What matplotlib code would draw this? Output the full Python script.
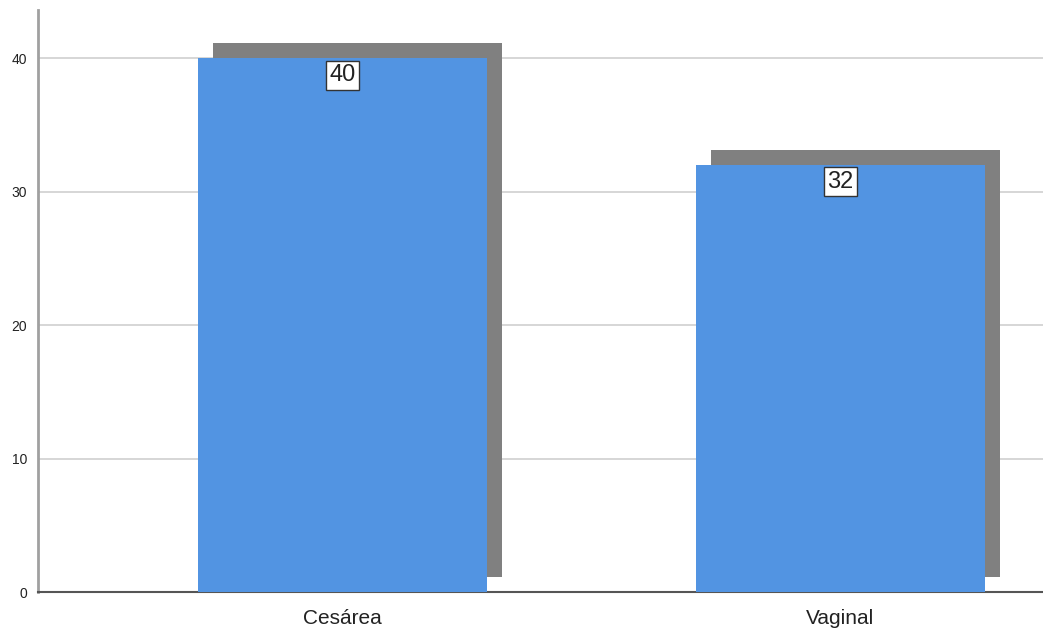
import matplotlib as mpl
mpl.rcParams["font.family"] = ["Liberation Sans", "DejaVu Sans"]
import matplotlib.pyplot as plt
import matplotlib.transforms as mtransforms

categories = ["Cesárea", "Vaginal"]
counts = [40, 32]
yticks = [0, 10, 20, 30, 40]

bar_color = "#5294e2"
shadow_color = "#808080"

fig = plt.figure(figsize=(10.43, 6.33), dpi=100)
ax = fig.add_axes([38 / 1043, 41 / 633, 1 - 38 / 1043, (592 - 10) / 633])

x = list(range(len(categories)))
width = 0.58

# drop shadow: same bars shifted right and up by 15 px
shadow_tr = mtransforms.offset_copy(ax.transData, fig=fig, x=15, y=15, units="dots")
ax.bar(x, counts, width=width, color=shadow_color, transform=shadow_tr, zorder=2)
ax.bar(x, counts, width=width, color=bar_color, zorder=3)

for xi, v in zip(x, counts):
    ax.annotate(str(v), (xi, v), xytext=(0, -17), textcoords="offset pixels",
                ha="center", va="center", fontsize=17, color="#222222", zorder=5,
                bbox=dict(boxstyle="square,pad=0.15", fc="white", ec="#333333", lw=1))

ax.set_xlim(-0.611, 1.407)
ax.set_ylim(0, 43.6)
ax.set_yticks(yticks)
ax.set_xticks(x)
ax.set_xticklabels(categories, fontsize=15, color="#222222")
ax.tick_params(axis="y", length=0, labelsize=10, pad=8, labelcolor="#222222")
ax.tick_params(axis="x", length=0, pad=12)
ax.yaxis.grid(True, color="#d0d0d0", lw=1.2, zorder=0)
ax.set_axisbelow(True)

for s in ["top", "right"]:
    ax.spines[s].set_visible(False)
ax.spines["left"].set_color("#a0a0a0")
ax.spines["left"].set_linewidth(2)
ax.spines["bottom"].set_color("#555555")
ax.spines["bottom"].set_linewidth(1.5)

fig.savefig("out.png", dpi=100)
